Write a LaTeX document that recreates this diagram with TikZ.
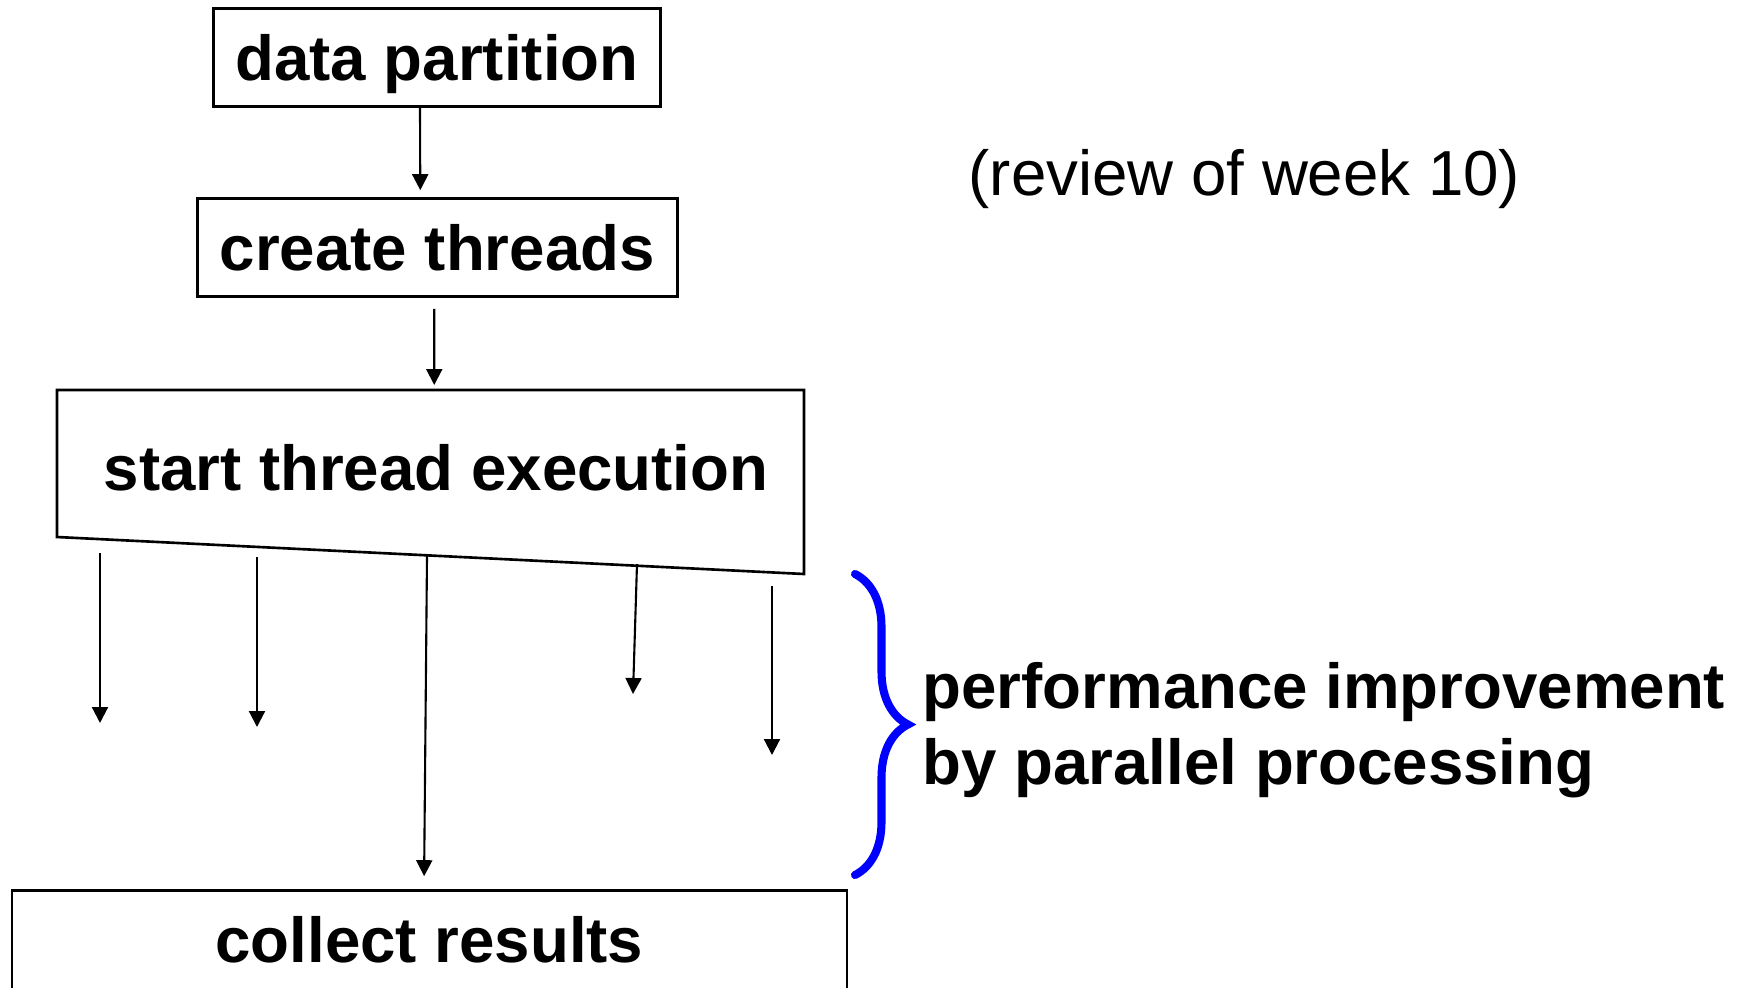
\documentclass[tikz,border=0pt]{standalone}
\usepackage{fontspec}
\setmainfont{Liberation Sans}
\usepackage{tikz}
\usetikzlibrary{arrows.meta, positioning, calc, decorations.pathreplacing}
\definecolor{braceBlue}{RGB}{0, 0, 255}

\begin{document}
\begin{tikzpicture}[
    every node/.style={font=\fontsize{18.1}{21.6}\selectfont, inner sep=0pt},
    stepbox/.style={rectangle, draw=black, line width=0.75pt, text height=0.715cm, text depth=0.265cm, font=\fontsize{18.1}{21.6}\selectfont\bfseries},
    boldlab/.style={font=\fontsize{18.1}{21.6}\selectfont\bfseries, align=left},
    flow/.style={-{Triangle[length=0.16cm, width=0.16cm]}, draw=black, line width=0.6pt},
    bracket/.style={decorate, decoration={brace, amplitude=0.53cm}, draw=braceBlue, line width=2.3pt, line cap=round},
]
\clip (0,0) rectangle (17.52,-9.87);
% BOXES
\node[stepbox, minimum width=4.47cm, anchor=base] (part) at (4.37,-0.80) {data partition};
\node[stepbox, minimum width=4.80cm, anchor=base] (create) at (4.373,-2.70) {create threads};
% execution box, slanted bottom edge
\coordinate (stl) at (0.57,-3.90);
\coordinate (str) at (8.04,-3.90);
\coordinate (sbr) at (8.04,-5.74);
\coordinate (sbl) at (0.57,-5.37);
\draw[line width=0.75pt] (stl) -- (str) -- (sbr) -- (sbl) -- cycle;
\node[boldlab, anchor=base] (start) at (4.36,-4.90) {start thread execution};
\node[stepbox, minimum width=8.35cm, text depth=0.5cm, anchor=base] (collect) at (4.295,-9.62) {collect results};
% ARROWS
\draw[flow, shorten >=0.07cm] ([xshift=-1.7mm]part.south) -- ([xshift=-1.7mm]create.north);
\draw[flow, shorten <=0.11cm, shorten >=0.05cm] ([xshift=-0.3mm]create.south) -- ($(stl)!0.505!(str)$);
% THREADS
\coordinate (s1) at (1.00,-5.53);
\coordinate (e1) at (1.00,-7.23);
\coordinate (s2) at (2.57,-5.57);
\coordinate (e2) at (2.57,-7.27);
\coordinate (s3) at (4.27,-5.56);
\coordinate (s4) at (6.37,-5.64);
\coordinate (e4) at (6.33,-6.94);
\coordinate (s5) at (7.72,-5.86);
\coordinate (e5) at (7.72,-7.55);
\draw[flow] (s1) -- (e1);
\draw[flow] (s2) -- (e2);
\draw[flow, shorten >=0.13cm] (s3) -- ([xshift=-0.55mm]collect.north);
\draw[flow] (s4) -- (e4);
\draw[flow] (s5) -- (e5);
% BRACE
\coordinate (brtop) at (8.55,-5.74);
\coordinate (brbot) at (8.55,-8.75);
\draw[bracket] (brtop) -- (brbot);
% LABELS
\node[anchor=base west] (review) at (9.68,-1.95) {(review of week 10)};
\node[boldlab, anchor=base west] (gain) at (9.22,-7.84) {performance improvement\\by parallel processing};
\end{tikzpicture}
\end{document}
